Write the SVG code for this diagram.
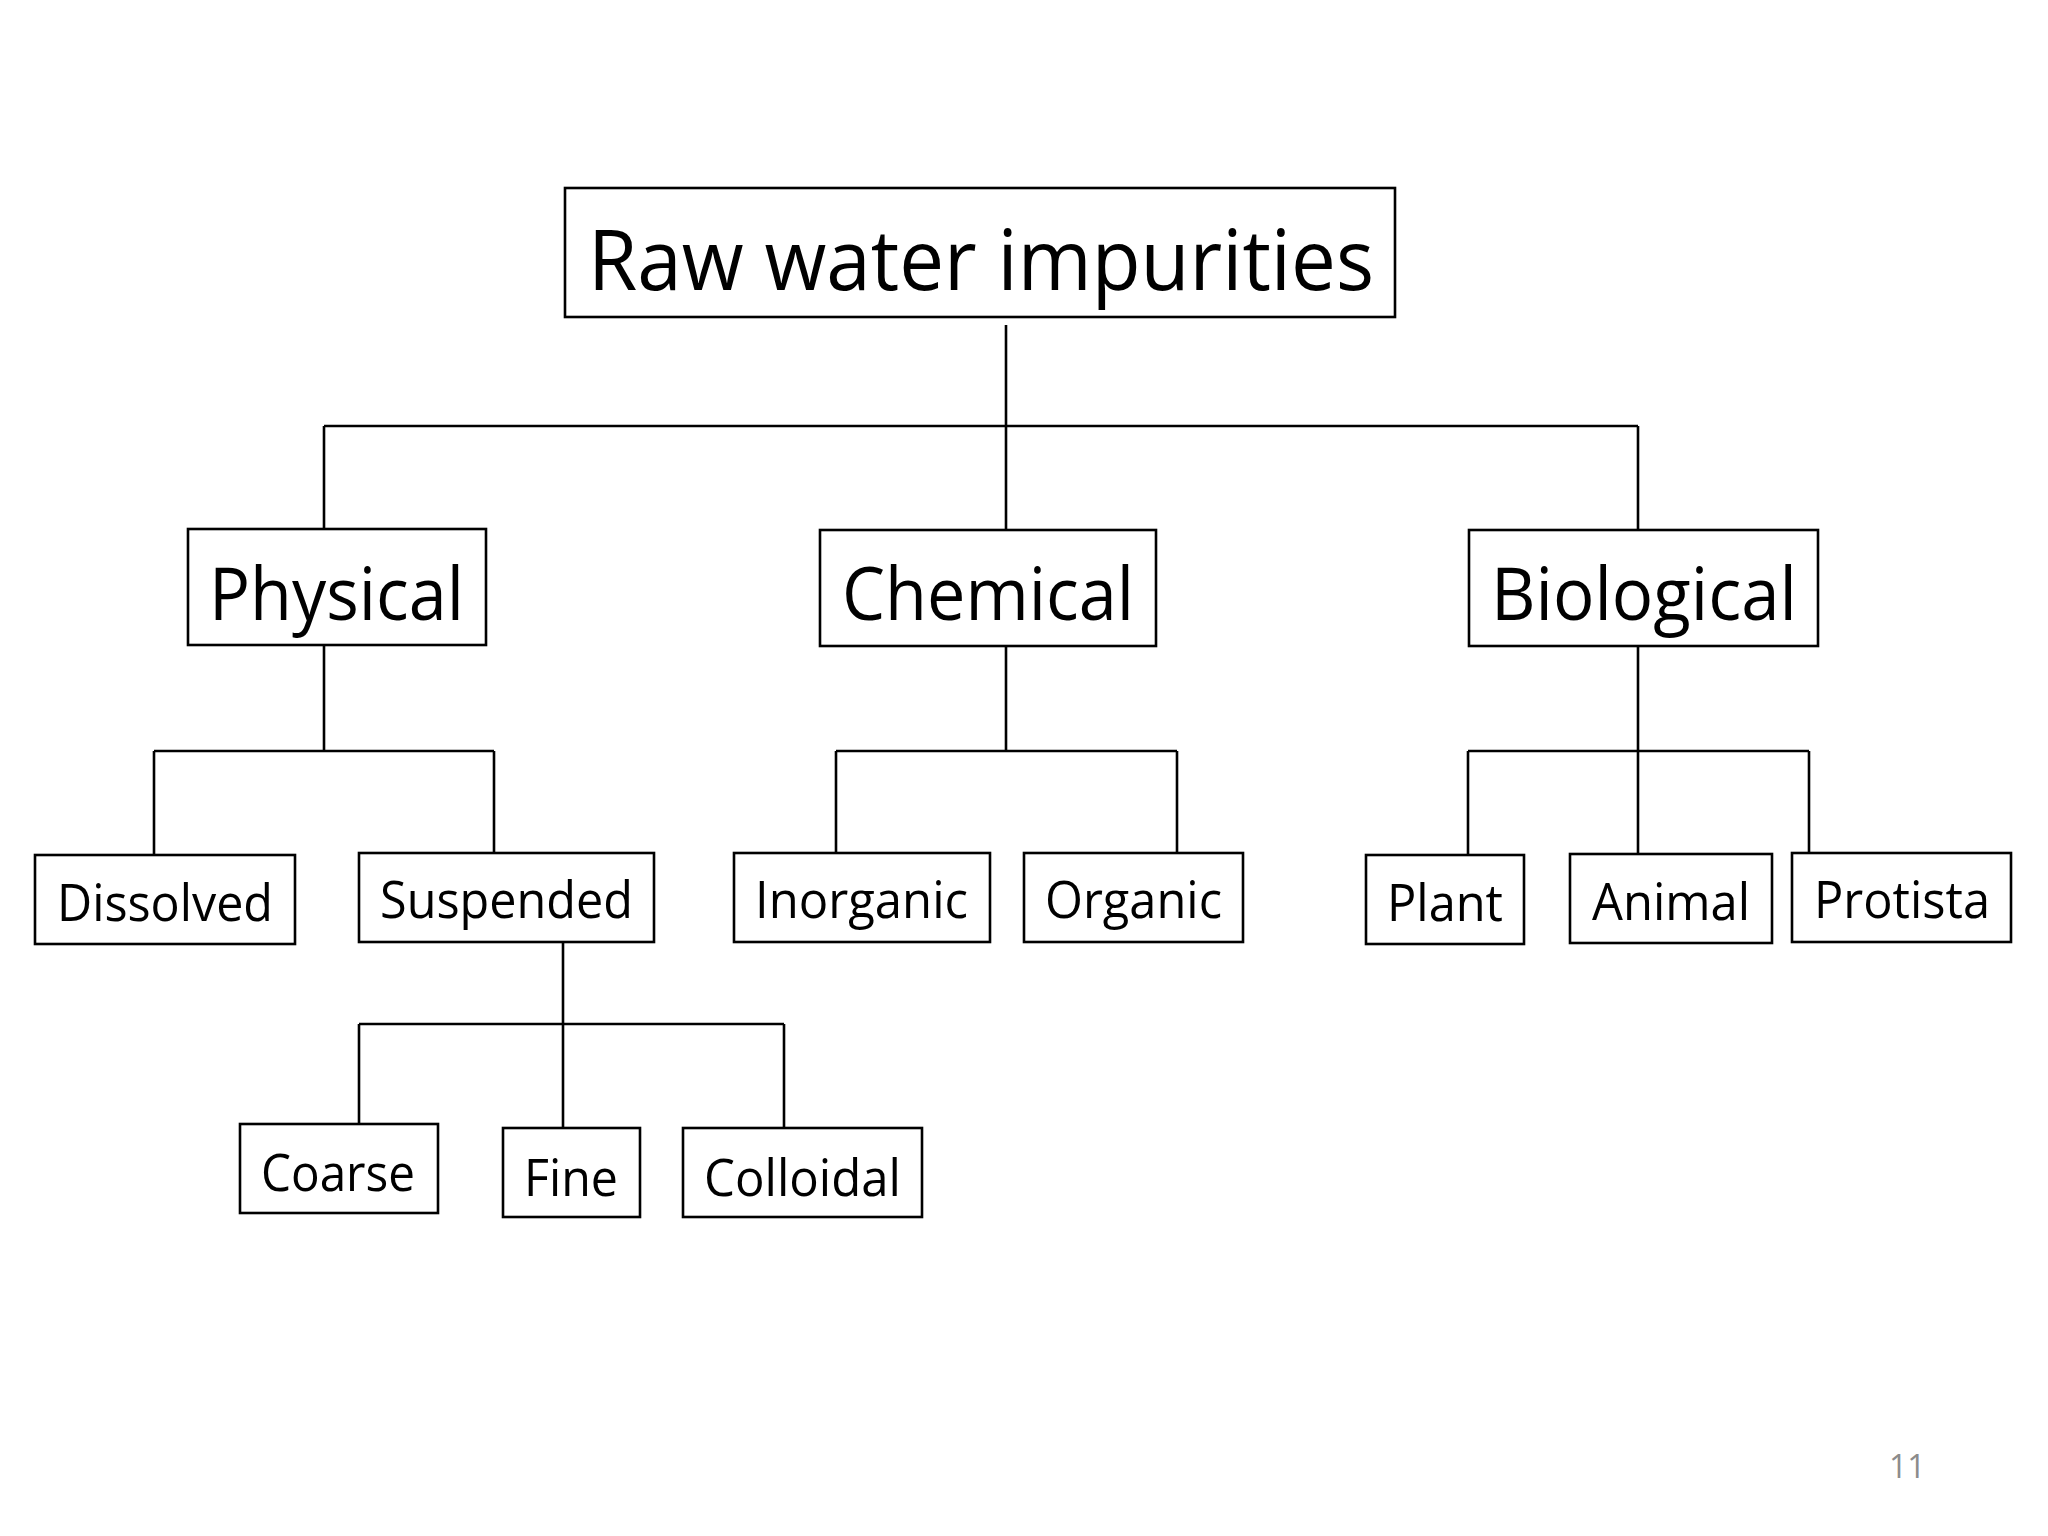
<svg xmlns="http://www.w3.org/2000/svg" width="2048" height="1536" viewBox="0 0 2048 1536">
<style>
rect{fill:#fff;stroke:#000;stroke-width:2.6}
line{stroke:#000;stroke-width:2.6}
text{font-family:"Open Sans","Liberation Sans",sans-serif;fill:#000}
.l1{font-size:84px}.l2{font-size:74px}.l3{font-size:52px}
</style>
<rect width="2048" height="1536" style="fill:#fff;stroke:none"/>
<g id="connectors">
<line x1="1006" y1="325" x2="1006" y2="529"/>
<line x1="324" y1="426" x2="1638" y2="426"/>
<line x1="324" y1="426" x2="324" y2="529"/>
<line x1="1638" y1="426" x2="1638" y2="530"/>
<line x1="324" y1="645" x2="324" y2="751"/>
<line x1="154" y1="751" x2="494" y2="751"/>
<line x1="154" y1="751" x2="154" y2="855"/>
<line x1="494" y1="751" x2="494" y2="853"/>
<line x1="563" y1="942" x2="563" y2="1128"/>
<line x1="359" y1="1024" x2="784" y2="1024"/>
<line x1="359" y1="1024" x2="359" y2="1124"/>
<line x1="784" y1="1024" x2="784" y2="1128"/>
<line x1="1006" y1="646" x2="1006" y2="751"/>
<line x1="836" y1="751" x2="1177" y2="751"/>
<line x1="836" y1="751" x2="836" y2="853"/>
<line x1="1177" y1="751" x2="1177" y2="853"/>
<line x1="1638" y1="646" x2="1638" y2="854"/>
<line x1="1468" y1="751" x2="1809" y2="751"/>
<line x1="1468" y1="751" x2="1468" y2="855"/>
<line x1="1809" y1="751" x2="1809" y2="853"/>
</g>
<g id="root"><rect x="565" y="188" width="830" height="129"/><text class="l1" x="588" y="290" textLength="786" lengthAdjust="spacingAndGlyphs">Raw water impurities</text></g>
<g id="physical"><rect x="188" y="529" width="298" height="116"/><text class="l2" x="209" y="620" textLength="255" lengthAdjust="spacingAndGlyphs">Physical</text></g>
<g id="chemical"><rect x="820" y="530" width="336" height="116"/><text class="l2" x="842" y="620" textLength="292" lengthAdjust="spacingAndGlyphs">Chemical</text></g>
<g id="biological"><rect x="1469" y="530" width="349" height="116"/><text class="l2" x="1491" y="620" textLength="306" lengthAdjust="spacingAndGlyphs">Biological</text></g>
<g id="dissolved"><rect x="35" y="855" width="260" height="89"/><text class="l3" x="57" y="921" textLength="216" lengthAdjust="spacingAndGlyphs">Dissolved</text></g>
<g id="suspended"><rect x="359" y="853" width="295" height="89"/><text class="l3" x="380" y="918" textLength="253" lengthAdjust="spacingAndGlyphs">Suspended</text></g>
<g id="coarse"><rect x="240" y="1124" width="198" height="89"/><text class="l3" x="261" y="1191" textLength="154" lengthAdjust="spacingAndGlyphs">Coarse</text></g>
<g id="fine"><rect x="503" y="1128" width="137" height="89"/><text class="l3" x="524" y="1196" textLength="94" lengthAdjust="spacingAndGlyphs">Fine</text></g>
<g id="colloidal"><rect x="683" y="1128" width="239" height="89"/><text class="l3" x="704" y="1196" textLength="197" lengthAdjust="spacingAndGlyphs">Colloidal</text></g>
<g id="inorganic"><rect x="734" y="853" width="256" height="89"/><text class="l3" x="755" y="918" textLength="213" lengthAdjust="spacingAndGlyphs">Inorganic</text></g>
<g id="organic"><rect x="1024" y="853" width="219" height="89"/><text class="l3" x="1045" y="918" textLength="177" lengthAdjust="spacingAndGlyphs">Organic</text></g>
<g id="plant"><rect x="1366" y="855" width="158" height="89"/><text class="l3" x="1387" y="921" textLength="116" lengthAdjust="spacingAndGlyphs">Plant</text></g>
<g id="animal"><rect x="1570" y="854" width="202" height="89"/><text class="l3" x="1592" y="920" textLength="158" lengthAdjust="spacingAndGlyphs">Animal</text></g>
<g id="protista"><rect x="1792" y="853" width="219" height="89"/><text class="l3" x="1814" y="918" textLength="176" lengthAdjust="spacingAndGlyphs">Protista</text></g>
<text x="1889" y="1478" style="font-size:32px;fill:#8c8c8c">11</text>
</svg>
